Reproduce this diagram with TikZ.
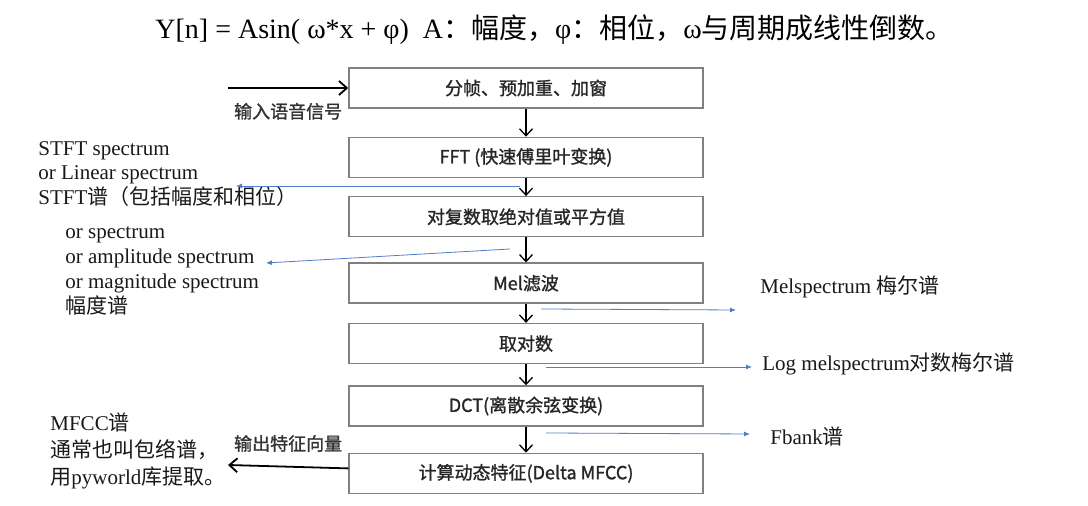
\documentclass[tikz,border=0pt]{standalone}
\usepackage{fontspec}
\setmainfont{Liberation Serif}
\newfontfamily\cjk{Noto Sans CJK SC}
\newfontfamily\boxcjk[FakeBold=1.3]{Noto Sans CJK SC}
\usetikzlibrary{arrows.meta, positioning}
\definecolor{boxGray}{RGB}{128,128,128}
\definecolor{noteBlue}{RGB}{82,125,200}

\begin{document}
\begin{tikzpicture}[
    x=0.5pt, y=-0.5pt,
    stage/.style={rectangle, draw=boxGray, line width=0.7pt, minimum width=177pt, minimum height=20pt, inner sep=0pt, font=\boxcjk\fontsize{9}{11}\selectfont, text=black!85},
    note/.style={align=left, anchor=west, inner sep=0pt, font=\fontsize{10.5}{12.4}\selectfont, text=black!90},
    tag/.style={inner sep=0pt, font=\boxcjk\fontsize{9}{11}\selectfont, text=black!80},
    flow/.style={-{Straight Barb[length=3.5pt,width=6.5pt]}, line width=0.65pt},
    io/.style={-{Straight Barb[length=4pt,width=7pt]}, line width=0.9pt},
    side/.style={-{Latex[length=3pt,width=2.5pt]}, noteBlue, line width=0.4pt}
]
\useasboundingbox (0,0) rectangle (1088,506);

% Formula
\node[anchor=west, inner sep=0pt, font=\fontsize{14}{16}\selectfont] (formula) at (155,30)
    {Y[n] = Asin( ω*x + φ)\ \ A{\cjk ：幅度，}φ{\cjk ：相位，}ω{\cjk 与周期成线性倒数。}};

% Pipeline
\node[stage] (frame) at (526,88) {分帧、预加重、加窗};
\node[stage, below=14pt of frame] (fft) {FFT (快速傅里叶变换)};
\node[stage, below=9pt of fft] (absval) {对复数取绝对值或平方值};
\node[stage, below=12.5pt of absval] (mel) {Mel滤波};
\node[stage, below=9.5pt of mel] (logn) {取对数};
\node[stage, below=10.5pt of logn] (dct) {DCT(离散余弦变换)};
\node[stage, below=13pt of dct] (delta) {计算动态特征(Delta MFCC)};

\foreach \a/\b in {frame/fft, fft/absval, absval/mel, mel/logn, logn/dct, dct/delta}
    \draw[flow] (\a) -- (\b);

% Input / output
\coordinate (src) at (228,88);
\coordinate (sink) at (228,465);
\draw[io] (src) -- node[tag, below=7pt] (inlabel) {输入语音信号} (frame);
\draw[io] (delta) -- node[tag, above=7pt] (outlabel) {输出特征向量} (sink);

% Notes
\node[note] (stft) at (38,174) {STFT spectrum\\or Linear spectrum\\STFT{\cjk 谱（包括幅度和相位）}};
\node[note, font=\fontsize{10.5}{12.6}\selectfont] (amp) at (65,271) {or spectrum\\or amplitude spectrum\\or magnitude spectrum\\{\cjk 幅度谱}};
\node[note] (melnote) at (760,287) {Melspectrum {\cjk 梅尔谱}};
\node[note] (lognote) at (762,364) {Log melspectrum{\cjk 对数梅尔谱}};
\node[note] (fbank) at (770,436) {Fbank{\cjk 谱}};
\node[note, font=\fontsize{10.5}{13.5}\selectfont] (mfcc) at (50,451) {MFCC{\cjk 谱}\\{\cjk 通常也叫包络谱，}\\{\cjk 用}pyworld{\cjk 库提取。}};

\coordinate (stftFrom) at (520,186);  \coordinate (stftTo) at (236,186);
\coordinate (ampFrom) at (510,249);   \coordinate (ampTo) at (266,263);
\coordinate (melFrom) at (541,309);   \coordinate (melTo) at (736,310);
\coordinate (logFrom) at (546,367);   \coordinate (logTo) at (752,367);
\coordinate (fbFrom) at (546,433);    \coordinate (fbTo) at (750,434);

\draw[side] (stftFrom) -- (stftTo);
\draw[side] (ampFrom) -- (ampTo);
\draw[side] (melFrom) -- (melTo);
\draw[side] (logFrom) -- (logTo);
\draw[side] (fbFrom) -- (fbTo);

\end{tikzpicture}
\end{document}
